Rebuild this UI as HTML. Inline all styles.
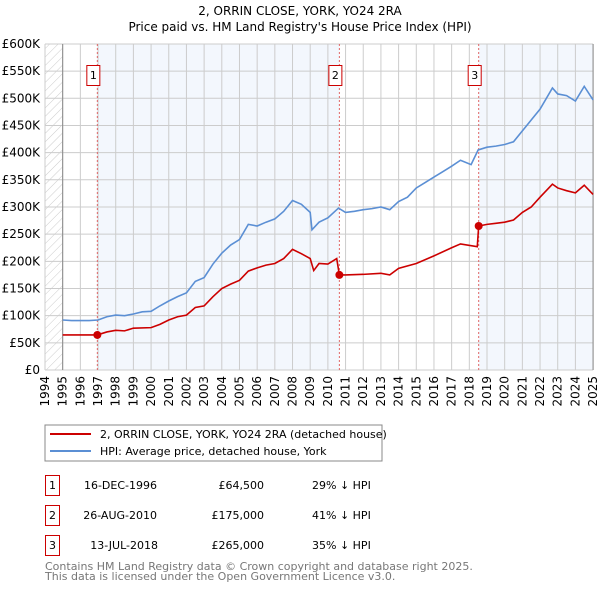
<!DOCTYPE html>
<html><head><meta charset="utf-8"><style>
body{margin:0;background:#fff;}
svg text{font-family:"DejaVu Sans","Liberation Sans",sans-serif;}
</style></head><body>
<svg id="c" width="600" height="590" xmlns="http://www.w3.org/2000/svg">
<defs><pattern id="hatch" width="6" height="6" patternUnits="userSpaceOnUse" patternTransform="rotate(45)"><line x1="0" y1="0" x2="0" y2="6" stroke="#ccc" stroke-width="1"/></pattern></defs>
<text x="300" y="15" text-anchor="middle" font-size="12">2, ORRIN CLOSE, YORK, YO24 2RA</text>
<text x="300" y="31" text-anchor="middle" font-size="12">Price paid vs. HM Land Registry's House Price Index (HPI)</text>
<g id="plot"></g>
<g>
<rect x="45" y="425" width="337" height="36" fill="#fff" stroke="#888"/>
<line x1="50" y1="434" x2="91" y2="434" stroke="#cc0000" stroke-width="2"/>
<text x="100" y="438" font-size="11">2, ORRIN CLOSE, YORK, YO24 2RA (detached house)</text>
<line x1="50" y1="451" x2="91" y2="451" stroke="#5b8fd4" stroke-width="2"/>
<text x="100" y="455" font-size="11">HPI: Average price, detached house, York</text>
</g>
<g font-size="11">
<rect x="45.5" y="475.5" width="14" height="20" fill="#fff" stroke="#cc0000"/><text x="52.5" y="489" text-anchor="middle">1</text>
<text x="157" y="489" text-anchor="end">16-DEC-1996</text><text x="264" y="489" text-anchor="end">£64,500</text><text x="312" y="489">29% ↓ HPI</text>
<rect x="45.5" y="505.5" width="14" height="20" fill="#fff" stroke="#cc0000"/><text x="52.5" y="519" text-anchor="middle">2</text>
<text x="157" y="519" text-anchor="end">26-AUG-2010</text><text x="264" y="519" text-anchor="end">£175,000</text><text x="312" y="519">41% ↓ HPI</text>
<rect x="45.5" y="535.5" width="14" height="20" fill="#fff" stroke="#cc0000"/><text x="52.5" y="549" text-anchor="middle">3</text>
<text x="158" y="549" text-anchor="end">13-JUL-2018</text><text x="264" y="549" text-anchor="end">£265,000</text><text x="312" y="549">35% ↓ HPI</text>
</g>
<text x="45" y="570" font-size="11" fill="#777">Contains HM Land Registry data © Crown copyright and database right 2025.</text>
<text x="45" y="580" font-size="11" fill="#777">This data is licensed under the Open Government Licence v3.0.</text>
</svg>
<script>
const hpiYears=[1995,1995.5,1996,1996.5,1997,1997.5,1998,1998.5,1999,1999.5,2000,2000.5,2001,2001.5,2002,2002.5,2003,2003.5,2004,2004.5,2005,2005.5,2006,2006.5,2007,2007.5,2008,2008.5,2009,2009.1,2009.5,2010,2010.6,2011,2011.5,2012,2012.5,2013,2013.5,2014,2014.5,2015,2015.5,2016,2016.5,2017,2017.5,2018.1,2018.5,2019,2019.5,2020,2020.5,2021,2021.5,2022,2022.7,2023,2023.5,2024,2024.5,2025];
const hpiValues=[92,91,91,91,92,98,101,100,103,107,108,118,127,135,142,163,170,195,215,230,240,268,265,272,278,292,312,305,290,258,272,280,298,290,292,295,297,300,295,310,318,335,345,355,365,375,386,378,405,410,412,415,420,440,460,480,519,508,505,495,522,497];
const redYears=[1995,1996.96,1997.5,1998,1998.5,1999,2000,2000.5,2001,2001.5,2002,2002.5,2003,2003.5,2004,2004.5,2005,2005.5,2006,2006.5,2007,2007.5,2008,2008.5,2009,2009.2,2009.5,2010,2010.5,2010.65,2011,2012,2013,2013.5,2014,2015,2016,2017,2017.5,2018.45,2018.53,2019,2019.5,2020,2020.5,2021,2021.5,2022,2022.7,2023,2023.5,2024,2024.5,2025];
const redValues=[64.5,64.5,70,73,72,77,78,84,92,98,101,115,118,135,150,158,165,182,188,193,196,205,222,214,205,183,196,195,205,175,175,176,178,175,187,196,210,225,232,227,265,268,270,272,276,290,300,318,342,335,330,326,340,323];
const saleYears=[1996.96,2010.65,2018.53];
const saleValues=[64.5,175,265];
const yTicks=[0,50,100,150,200,250,300,350,400,450,500,550,600];
const yTickLabels=["£0","£50K","£100K","£150K","£200K","£250K","£300K","£350K","£400K","£450K","£500K","£550K","£600K"];
const xTicks=[1994,1995,1996,1997,1998,1999,2000,2001,2002,2003,2004,2005,2006,2007,2008,2009,2010,2011,2012,2013,2014,2015,2016,2017,2018,2019,2020,2021,2022,2023,2024,2025];
const X=y=>45+(y-1994)*17.68;
const Y=v=>370-v*0.5434;
const g=document.getElementById('plot');
const NS='http://www.w3.org/2000/svg';
function mk(t,a){const e=document.createElementNS(NS,t);for(const k in a)e.setAttribute(k,a[k]);g.appendChild(e);return e;}
let e;
e=mk('rect',{x:X(1994),y:Y(600),width:X(1995)-X(1994),height:Y(0)-Y(600),fill:'url(#hatch)'});


e=mk('rect',{x:X(saleYears[0]),y:Y(600),width:X(saleYears[1])-X(saleYears[0]),height:Y(0)-Y(600),fill:'#eef3fc',opacity:0.7});


e=mk('rect',{x:X(saleYears[2]),y:Y(600),width:X(2025)-X(saleYears[2]),height:Y(0)-Y(600),fill:'#eef3fc',opacity:0.7});


yTicks.forEach((v,i)=>{
 e=mk('line',{x1:X(1994),x2:X(2025),y1:Y(v),y2:Y(v),stroke:'#ccc'});
 
 
 e=mk('text',{x:40,y:Y(v)+4,'text-anchor':'end','font-size':'12'});e.textContent=yTickLabels[i];
 
 
});
xTicks.forEach(yr=>{
 e=mk('line',{x1:X(yr),x2:X(yr),y1:Y(600),y2:Y(0),stroke:'#ccc'});
 
 
 e=mk('text',{x:X(yr)+4,y:376,'text-anchor':'end','font-size':'12',transform:`rotate(-90 ${X(yr)+4} 376)`});e.textContent=yr;
 
 
});
e=mk('line',{x1:X(1995),x2:X(1995),y1:Y(600),y2:Y(0),stroke:'#888'});


e=mk('line',{x1:X(2025),x2:X(2025),y1:Y(600),y2:Y(0),stroke:'#888'});


saleYears.forEach((yr,i)=>{
 e=mk('line',{x1:X(yr),x2:X(yr),y1:Y(600),y2:Y(0),stroke:'#e06666','stroke-dasharray':'2,2'});
 
 
 e=mk('rect',{x:X(yr)-10.5,y:65.5,width:13,height:20,fill:'#fff',stroke:'#cc0000'});
 
 
 e=mk('text',{x:X(yr)-4,y:79,'text-anchor':'middle','font-size':'11'});e.textContent=String(i+1);
 
 
});
e=mk('polyline',{points:hpiYears.map((y,i)=>X(y)+','+Y(hpiValues[i])).join(' '),fill:'none',stroke:'#5b8fd4','stroke-width':1.6});


e=mk('polyline',{points:redYears.map((y,i)=>X(y)+','+Y(redValues[i])).join(' '),fill:'none',stroke:'#cc0000','stroke-width':1.6});


saleYears.forEach((yr,i)=>{
 e=mk('circle',{cx:X(yr),cy:Y(saleValues[i]),r:4,fill:'#cc0000'});
 
 
});
</script>
</body></html>
